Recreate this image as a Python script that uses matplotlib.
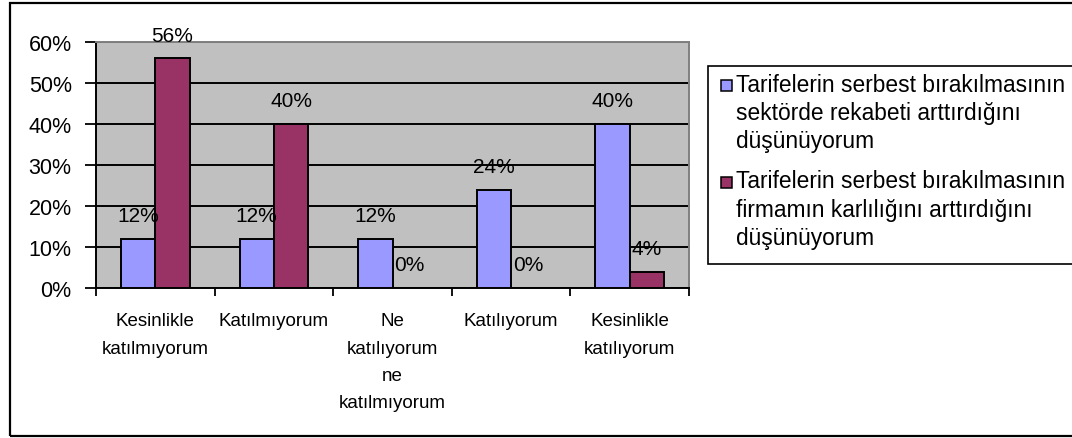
import matplotlib
matplotlib.use("Agg")
import matplotlib.pyplot as plt
from matplotlib.patches import Rectangle
import numpy as np

categories = [
    ["Kesinlikle", "katılmıyorum"],
    ["Katılmıyorum"],
    ["Ne", "katılıyorum", "ne", "katılmıyorum"],
    ["Katılıyorum"],
    ["Kesinlikle", "katılıyorum"],
]
series_names = [
    ["Tarifelerin serbest bırakılmasının", "sektörde rekabeti arttırdığını", "düşünüyorum"],
    ["Tarifelerin serbest bırakılmasının", "firmamın karlılığını arttırdığını", "düşünüyorum"],
]
rekabet = [12, 12, 12, 24, 40]
karlilik = [56, 40, 0, 0, 4]
y_ticks = [0, 10, 20, 30, 40, 50, 60]
colors = ["#9999FF", "#993366"]

W, H = 1072, 439
plt.rcParams["font.family"] = ["Liberation Sans", "DejaVu Sans"]
fig = plt.figure(figsize=(W / 100, H / 100), dpi=100)

def fx(x):
    return x / W

def fy(y):
    return 1 - y / H

# plot area in pixels
L, R, T, B = 96, 689, 43, 289
ax = fig.add_axes([fx(L), fy(B), fx(R) - fx(L), fy(T) - fy(B)])
ax.set_facecolor("#C0C0C0")

x = np.arange(len(categories))
bw = 0.29
data = [rekabet, karlilik]
offsets = [-bw / 2, bw / 2]
for vals, off, col in zip(data, offsets, colors):
    ax.bar(x + off, vals, width=bw, color=col, edgecolor="black",
           linewidth=1.4, zorder=3)
    for xi, v in zip(x + off, vals):
        ax.annotate(f"{v}%", (xi, v), xytext=(0, 12.8), textcoords="offset points",
                    ha="center", va="baseline", fontsize=15, zorder=5,
                    annotation_clip=False)

ax.set_xlim(-0.5, len(categories) - 0.5)
ax.set_ylim(0, 60)
ax.set_yticks(y_ticks)
ax.set_yticklabels([f"{t}%" for t in y_ticks], fontsize=15.5)
ax.yaxis.grid(True, color="black", linewidth=1.4, zorder=1)
ax.set_axisbelow(True)
ax.tick_params(axis="y", length=8, width=1.3, pad=9.5, color="black")

# category boundary ticks
ax.set_xticks(np.arange(-0.5, len(categories), 1.0))
ax.set_xticklabels([])
ax.tick_params(axis="x", length=6, width=1.3, color="black")

for s in ["left", "bottom"]:
    ax.spines[s].set_color("black")
    ax.spines[s].set_linewidth(1.4)
for s in ["top", "right"]:
    ax.spines[s].set_color("#808080")
    ax.spines[s].set_linewidth(1.4)

# category labels, line by line
first_base = 326.5
step = 27.3
for xi, lines in zip(x, categories):
    for j, line in enumerate(lines):
        ypx = first_base + j * step
        ya = -(ypx - B) / (B - T)
        ax.text(xi, ya, line, transform=ax.get_xaxis_transform(), ha="center",
                va="baseline", fontsize=13.5, clip_on=False)

# legend (drawn manually to mimic the reference layout)
fig.patches.append(Rectangle((fx(708), fy(265)), fx(1080) - fx(708), fy(67) - fy(265),
                             transform=fig.transFigure, facecolor="white",
                             edgecolor="black", linewidth=1.2, zorder=2))
leg_base = [91.7, 188.5]
leg_step = 28.3
for name_lines, col, b0 in zip(series_names, colors, leg_base):
    fig.patches.append(Rectangle((fx(721), fy(b0 + 0.5)), fx(732) - fx(721), fy(b0 - 10.5) - fy(b0 + 0.5),
                                 transform=fig.transFigure, facecolor=col,
                                 edgecolor="black", linewidth=1.1, zorder=3))
    for j, line in enumerate(name_lines):
        fig.text(fx(736), fy(b0 + j * leg_step), line, ha="left", va="baseline",
                 fontsize=16.4, zorder=4)

# outer chart border
fig.patches.append(Rectangle((fx(9.5), fy(436.5)), fx(1080) - fx(9.5), fy(3.5) - fy(436.5),
                             transform=fig.transFigure, facecolor="none",
                             edgecolor="black", linewidth=1.6, zorder=1))

fig.savefig("out.png", dpi=100)
